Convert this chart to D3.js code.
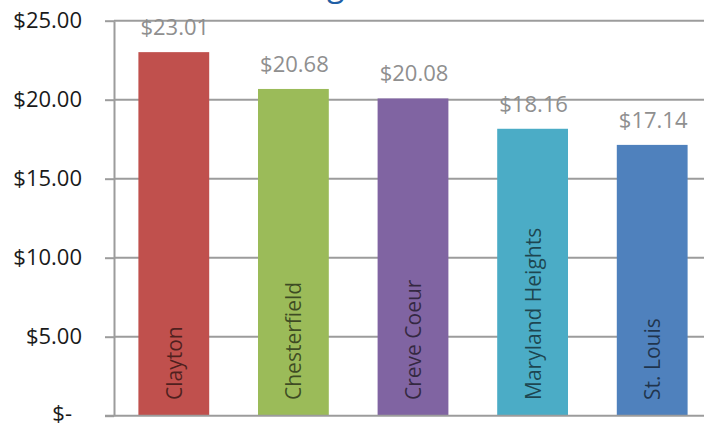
<!DOCTYPE html>
<html>
<head>
<meta charset="utf-8">
<script src="https://cdn.jsdelivr.net/npm/d3@7"></script>
<style>
  html, body { margin: 0; padding: 0; background: #fff; overflow: hidden; }
  svg { display: block; }
</style>
</head>
<body>
<svg id="chart" width="704" height="425"></svg>
<script>
const categories = ["Clayton", "Chesterfield", "Creve Coeur", "Maryland Heights", "St. Louis"];
const values = [23.01, 20.68, 20.08, 18.16, 17.14];
const barColors = ["#C0504D", "#9BBB59", "#8064A2", "#4BACC6", "#4F81BD"];
const yTicks = [0, 5, 10, 15, 20, 25];
const yTickLabels = ["$-", "$5.00", "$10.00", "$15.00", "$20.00", "$25.00"];
const valueLabels = ["$23.01", "$20.68", "$20.08", "$18.16", "$17.14"];
const titleText = "Asking Rent";

const W = 704, H = 425;
const svg = d3.select("#chart");
const font = "'Open Sans', 'DejaVu Sans', sans-serif";
const gridColor = "#9c9c9c";

const x = d3.scaleBand().domain(categories).range([114, 712]).paddingInner(0.408).paddingOuter(0.204);
const y = d3.scaleLinear().domain([0, 25]).range([415.7, 20.7]);

// title (mostly above the visible area, as in the reference)
const title = svg.append("text")
  .attr("y", -4)
  .attr("font-family", font)
  .attr("font-size", 32)
  .attr("fill", "#1F5FA6")
  .text(titleText);
const gi = titleText.indexOf("g");
const gx = title.node().getStartPositionOfChar(gi).x;
title.attr("x", 327 - gx);

// gridlines
svg.append("g").selectAll("line").data(yTicks.filter(d => d > 0)).join("line")
  .attr("x1", 114).attr("x2", W)
  .attr("y1", d => y(d)).attr("y2", d => y(d))
  .attr("stroke", gridColor).attr("stroke-width", 2);

// y axis
const yAxis = d3.axisLeft(y)
  .tickValues(yTicks)
  .tickSize(9)
  .tickSizeOuter(0)
  .tickPadding(23)
  .tickFormat((d, i) => yTickLabels[i]);
const ga = svg.append("g").attr("transform", "translate(114,0)").call(yAxis);
ga.select(".domain").attr("stroke", gridColor).attr("stroke-width", 2);
ga.selectAll(".tick line").attr("stroke", gridColor).attr("stroke-width", 2);
ga.selectAll(".tick text")
  .attr("font-family", font).attr("font-size", 22).attr("fill", "#1a1a1a")
  .attr("dx", d => d === 0 ? -10 : 0)
  .attr("dy", d => d === 0 ? "0.22em" : "0.32em");

// bars
svg.append("g").selectAll("rect").data(categories).join("rect")
  .attr("x", d => x(d))
  .attr("width", x.bandwidth())
  .attr("y", (d, i) => y(values[i]))
  .attr("height", (d, i) => y(0) - y(values[i]))
  .attr("fill", (d, i) => barColors[i]);

// bottom axis line
svg.append("line")
  .attr("x1", 105).attr("x2", W)
  .attr("y1", y(0)).attr("y2", y(0))
  .attr("stroke", gridColor).attr("stroke-width", 2);

// value labels
svg.append("g").selectAll("text").data(categories).join("text")
  .attr("x", d => x(d) + x.bandwidth() / 2 + 1)
  .attr("y", (d, i) => y(values[i]) - 17)
  .attr("text-anchor", "middle")
  .attr("font-family", font).attr("font-size", 22)
  .attr("fill", "#8f8f8f")
  .text((d, i) => valueLabels[i]);

// category labels inside bars (rotated)
svg.append("g").selectAll("text").data(categories).join("text")
  .attr("transform", d => `translate(${x(d) + x.bandwidth() / 2 + 8},400) rotate(-90)`)
  .attr("font-family", font).attr("font-size", 21)
  .attr("fill", "#000").attr("fill-opacity", 0.6)
  .text(d => d);
</script>
</body>
</html>
